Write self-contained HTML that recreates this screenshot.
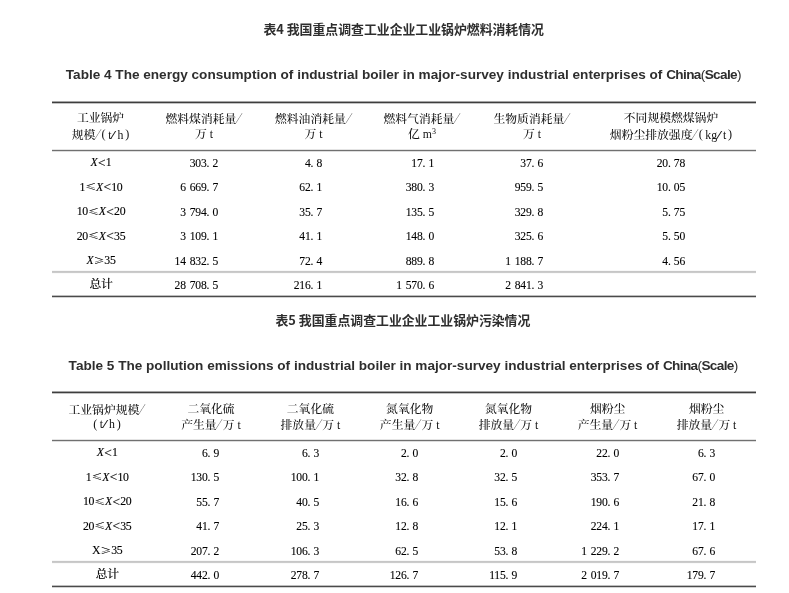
<!DOCTYPE html>
<html lang="zh-CN"><head><meta charset="utf-8"><title>表4 表5</title><style>
*{margin:0;padding:0;box-sizing:border-box}
html,body{width:789px;height:593px;overflow:hidden;background:#fff}
body{position:relative;font-family:"Liberation Serif","Noto Serif CJK SC",serif;color:#111}
.t{font-weight:500}
.r{position:absolute;left:52px;width:704px}
.t{position:absolute;white-space:nowrap;line-height:14px;font-size:11.8px}
.c{text-align:center;width:200px}
.c1{letter-spacing:-0.3px;color:#000;-webkit-text-stroke:0.12px #000}
.n{color:#000;-webkit-text-stroke:0.12px #000;transform:scaleX(0.88);transform-origin:100% 50%;text-align:right;width:100px;font-size:13.2px;letter-spacing:-0.24px;margin-top:-0.3px}
.h1{position:absolute;white-space:nowrap;font-weight:bold;color:#2e2e2e}
.cn{font-family:"Noto Sans CJK SC",sans-serif;font-size:12.86px;line-height:16px}
.en{font-family:"Liberation Sans","Noto Sans CJK SC",sans-serif;font-size:13.58px;line-height:16px}
.en i{font-style:normal;font-weight:normal}
.sc{letter-spacing:-0.62px}
.x{font-style:italic}
.g{display:inline-block;width:4.5px}
.p{display:inline-block;width:3.6px}
.op{font-family:"Noto Serif CJK SC",serif;font-weight:600;font-size:10.6px;display:inline-block;margin:0 0.3px;position:relative;top:-0.3px;transform:scaleY(0.82);transform-origin:50% 85%}
.lt{font-size:13.4px;display:inline-block;margin:0 0.5px;position:relative;top:0.9px;line-height:10px}
.sl{display:inline-block;text-align:left;width:7.4px;margin-left:-1.2px;font-family:"Noto Serif CJK SC",serif;transform:scaleX(0.64);transform-origin:0 50%}
.ls{display:inline-block;text-align:left;width:7px;margin-left:-1.1px;transform:scaleX(1.9);transform-origin:0 50%}
.pl{margin-right:2.6px;font-size:12.2px;position:relative;top:-0.4px}
.pr{margin-left:1.8px;font-size:12.2px;position:relative;top:-0.4px}
sup{font-size:8px;vertical-align:0;position:relative;top:-4px}
</style></head><body>
<div class="h1 cn" style="left:263.4px;top:21px">表4 我国重点调查工业企业工业锅炉燃料消耗情况</div>
<div class="h1 en" style="left:65.8px;top:67.3px">Table 4 The energy consumption of industrial boiler in major-survey industrial enterprises of <span class="sc">China<i>(</i>Scale<i>)</i></span></div>
<div class="h1 cn" style="left:275.5px;top:311.5px">表5 我国重点调查工业企业工业锅炉污染情况</div>
<div class="h1 en" style="left:68.6px;top:357.5px">Table 5 The pollution emissions of industrial boiler in major-survey industrial enterprises of <span class="sc">China<i>(</i>Scale<i>)</i></span></div>
<div class="r" style="top:101px;height:3px;background:linear-gradient(#a5a5a5 0px 1px, #3e3e3e 1px 2px, #c3c3c3 2px 3px)"></div>
<div class="r" style="top:149px;height:3px;background:linear-gradient(#e4e4e4 0px 1px, #707070 1px 2px, #dedede 2px 3px)"></div>
<div class="r" style="top:270px;height:4px;background:linear-gradient(#f8f8f8 0px 1px, #c6c6c6 1px 2px, #cbcbcb 2px 3px, #fafafa 3px 4px)"></div>
<div class="r" style="top:295px;height:3px;background:linear-gradient(#bebebe 0px 1px, #4b4b4b 1px 2px, #d2d2d2 2px 3px)"></div>
<div class="t c" style="left:0.50px;top:111.30px">工业锅炉</div>
<div class="t c" style="left:0.50px;top:126.70px">规模<span class="sl">／</span><span class="pl">(</span>t<span class="ls">/</span>h<span class="pr">)</span></div>
<div class="t c" style="left:104.00px;top:111.30px">燃料煤消耗量<span class="sl">／</span></div>
<div class="t c" style="left:104.00px;top:126.70px">万 t</div>
<div class="t c" style="left:213.50px;top:111.30px">燃料油消耗量<span class="sl">／</span></div>
<div class="t c" style="left:213.50px;top:126.70px">万 t</div>
<div class="t c" style="left:322.00px;top:111.30px">燃料气消耗量<span class="sl">／</span></div>
<div class="t c" style="left:322.00px;top:126.70px">亿 m<sup>3</sup></div>
<div class="t c" style="left:432.00px;top:111.30px">生物质消耗量<span class="sl">／</span></div>
<div class="t c" style="left:432.00px;top:126.70px">万 t</div>
<div class="t c" style="left:571.00px;top:111.30px">不同规模燃煤锅炉</div>
<div class="t c" style="left:571.00px;top:126.70px">烟粉尘排放强度<span class="sl">／</span><span class="pl">(</span>kg<span class="ls">/</span>t<span class="pr">)</span></div>
<div class="t c c1" style="left:1.00px;top:155.10px"><i class="x">X</i><span class="lt">&lt;</span>1</div>
<div class="t c c1" style="left:1.00px;top:179.60px">1<span class="op">≤</span><i class="x">X</i><span class="lt">&lt;</span>10</div>
<div class="t c c1" style="left:1.00px;top:204.10px">10<span class="op">≤</span><i class="x">X</i><span class="lt">&lt;</span>20</div>
<div class="t c c1" style="left:1.00px;top:228.60px">20<span class="op">≤</span><i class="x">X</i><span class="lt">&lt;</span>35</div>
<div class="t c c1" style="left:1.00px;top:253.10px"><i class="x">X</i><span class="op">≥</span>35</div>
<div class="t c c1" style="left:1.00px;top:277.40px">总计</div>
<div class="t n" style="left:118.00px;top:156.00px">303.<span class="p"></span>2</div>
<div class="t n" style="left:221.90px;top:156.00px">4.<span class="p"></span>8</div>
<div class="t n" style="left:333.70px;top:156.00px">17.<span class="p"></span>1</div>
<div class="t n" style="left:443.40px;top:156.00px">37.<span class="p"></span>6</div>
<div class="t n" style="left:585.20px;top:156.00px">20.<span class="p"></span>78</div>
<div class="t n" style="left:118.00px;top:180.50px">6<span class="g"></span>669.<span class="p"></span>7</div>
<div class="t n" style="left:221.90px;top:180.50px">62.<span class="p"></span>1</div>
<div class="t n" style="left:333.70px;top:180.50px">380.<span class="p"></span>3</div>
<div class="t n" style="left:443.40px;top:180.50px">959.<span class="p"></span>5</div>
<div class="t n" style="left:585.20px;top:180.50px">10.<span class="p"></span>05</div>
<div class="t n" style="left:118.00px;top:205.00px">3<span class="g"></span>794.<span class="p"></span>0</div>
<div class="t n" style="left:221.90px;top:205.00px">35.<span class="p"></span>7</div>
<div class="t n" style="left:333.70px;top:205.00px">135.<span class="p"></span>5</div>
<div class="t n" style="left:443.40px;top:205.00px">329.<span class="p"></span>8</div>
<div class="t n" style="left:585.20px;top:205.00px">5.<span class="p"></span>75</div>
<div class="t n" style="left:118.00px;top:229.50px">3<span class="g"></span>109.<span class="p"></span>1</div>
<div class="t n" style="left:221.90px;top:229.50px">41.<span class="p"></span>1</div>
<div class="t n" style="left:333.70px;top:229.50px">148.<span class="p"></span>0</div>
<div class="t n" style="left:443.40px;top:229.50px">325.<span class="p"></span>6</div>
<div class="t n" style="left:585.20px;top:229.50px">5.<span class="p"></span>50</div>
<div class="t n" style="left:118.00px;top:254.00px">14<span class="g"></span>832.<span class="p"></span>5</div>
<div class="t n" style="left:221.90px;top:254.00px">72.<span class="p"></span>4</div>
<div class="t n" style="left:333.70px;top:254.00px">889.<span class="p"></span>8</div>
<div class="t n" style="left:443.40px;top:254.00px">1<span class="g"></span>188.<span class="p"></span>7</div>
<div class="t n" style="left:585.20px;top:254.00px">4.<span class="p"></span>56</div>
<div class="t n" style="left:118.00px;top:278.00px">28<span class="g"></span>708.<span class="p"></span>5</div>
<div class="t n" style="left:221.90px;top:278.00px">216.<span class="p"></span>1</div>
<div class="t n" style="left:333.70px;top:278.00px">1<span class="g"></span>570.<span class="p"></span>6</div>
<div class="t n" style="left:443.40px;top:278.00px">2<span class="g"></span>841.<span class="p"></span>3</div>
<div class="r" style="top:391px;height:3px;background:linear-gradient(#a5a5a5 0px 1px, #3e3e3e 1px 2px, #c3c3c3 2px 3px)"></div>
<div class="r" style="top:439px;height:3px;background:linear-gradient(#e4e4e4 0px 1px, #707070 1px 2px, #dedede 2px 3px)"></div>
<div class="r" style="top:560px;height:4px;background:linear-gradient(#f8f8f8 0px 1px, #c6c6c6 1px 2px, #cbcbcb 2px 3px, #fafafa 3px 4px)"></div>
<div class="r" style="top:585px;height:3px;background:linear-gradient(#bebebe 0px 1px, #4b4b4b 1px 2px, #d2d2d2 2px 3px)"></div>
<div class="t c" style="left:7.00px;top:401.60px">工业锅炉规模<span class="sl">／</span></div>
<div class="t c" style="left:7.00px;top:417.00px"><span class="pl">(</span>t<span class="ls">/</span>h<span class="pr">)</span></div>
<div class="t c" style="left:111.00px;top:401.60px">二氧化硫</div>
<div class="t c" style="left:111.00px;top:417.00px">产生量<span class="sl">／</span>万 t</div>
<div class="t c" style="left:210.40px;top:401.60px">二氧化硫</div>
<div class="t c" style="left:210.40px;top:417.00px">排放量<span class="sl">／</span>万 t</div>
<div class="t c" style="left:309.70px;top:401.60px">氮氧化物</div>
<div class="t c" style="left:309.70px;top:417.00px">产生量<span class="sl">／</span>万 t</div>
<div class="t c" style="left:408.50px;top:401.60px">氮氧化物</div>
<div class="t c" style="left:408.50px;top:417.00px">排放量<span class="sl">／</span>万 t</div>
<div class="t c" style="left:507.60px;top:401.60px">烟粉尘</div>
<div class="t c" style="left:507.60px;top:417.00px">产生量<span class="sl">／</span>万 t</div>
<div class="t c" style="left:606.60px;top:401.60px">烟粉尘</div>
<div class="t c" style="left:606.60px;top:417.00px">排放量<span class="sl">／</span>万 t</div>
<div class="t c c1" style="left:7.20px;top:445.10px"><i class="x">X</i><span class="lt">&lt;</span>1</div>
<div class="t c c1" style="left:7.20px;top:469.60px">1<span class="op">≤</span><i class="x">X</i><span class="lt">&lt;</span>10</div>
<div class="t c c1" style="left:7.20px;top:494.10px">10<span class="op">≤</span><i class="x">X</i><span class="lt">&lt;</span>20</div>
<div class="t c c1" style="left:7.20px;top:518.60px">20<span class="op">≤</span><i class="x">X</i><span class="lt">&lt;</span>35</div>
<div class="t c c1" style="left:7.20px;top:543.10px">X<span class="op">≥</span>35</div>
<div class="t c c1" style="left:7.20px;top:567.40px">总计</div>
<div class="t n" style="left:119.30px;top:446.00px">6.<span class="p"></span>9</div>
<div class="t n" style="left:218.70px;top:446.00px">6.<span class="p"></span>3</div>
<div class="t n" style="left:318.40px;top:446.00px">2.<span class="p"></span>0</div>
<div class="t n" style="left:417.20px;top:446.00px">2.<span class="p"></span>0</div>
<div class="t n" style="left:518.60px;top:446.00px">22.<span class="p"></span>0</div>
<div class="t n" style="left:615.20px;top:446.00px">6.<span class="p"></span>3</div>
<div class="t n" style="left:119.30px;top:470.50px">130.<span class="p"></span>5</div>
<div class="t n" style="left:218.70px;top:470.50px">100.<span class="p"></span>1</div>
<div class="t n" style="left:318.40px;top:470.50px">32.<span class="p"></span>8</div>
<div class="t n" style="left:417.20px;top:470.50px">32.<span class="p"></span>5</div>
<div class="t n" style="left:518.60px;top:470.50px">353.<span class="p"></span>7</div>
<div class="t n" style="left:615.20px;top:470.50px">67.<span class="p"></span>0</div>
<div class="t n" style="left:119.30px;top:495.00px">55.<span class="p"></span>7</div>
<div class="t n" style="left:218.70px;top:495.00px">40.<span class="p"></span>5</div>
<div class="t n" style="left:318.40px;top:495.00px">16.<span class="p"></span>6</div>
<div class="t n" style="left:417.20px;top:495.00px">15.<span class="p"></span>6</div>
<div class="t n" style="left:518.60px;top:495.00px">190.<span class="p"></span>6</div>
<div class="t n" style="left:615.20px;top:495.00px">21.<span class="p"></span>8</div>
<div class="t n" style="left:119.30px;top:519.50px">41.<span class="p"></span>7</div>
<div class="t n" style="left:218.70px;top:519.50px">25.<span class="p"></span>3</div>
<div class="t n" style="left:318.40px;top:519.50px">12.<span class="p"></span>8</div>
<div class="t n" style="left:417.20px;top:519.50px">12.<span class="p"></span>1</div>
<div class="t n" style="left:518.60px;top:519.50px">224.<span class="p"></span>1</div>
<div class="t n" style="left:615.20px;top:519.50px">17.<span class="p"></span>1</div>
<div class="t n" style="left:119.30px;top:544.00px">207.<span class="p"></span>2</div>
<div class="t n" style="left:218.70px;top:544.00px">106.<span class="p"></span>3</div>
<div class="t n" style="left:318.40px;top:544.00px">62.<span class="p"></span>5</div>
<div class="t n" style="left:417.20px;top:544.00px">53.<span class="p"></span>8</div>
<div class="t n" style="left:518.60px;top:544.00px">1<span class="g"></span>229.<span class="p"></span>2</div>
<div class="t n" style="left:615.20px;top:544.00px">67.<span class="p"></span>6</div>
<div class="t n" style="left:119.30px;top:568.00px">442.<span class="p"></span>0</div>
<div class="t n" style="left:218.70px;top:568.00px">278.<span class="p"></span>7</div>
<div class="t n" style="left:318.40px;top:568.00px">126.<span class="p"></span>7</div>
<div class="t n" style="left:417.20px;top:568.00px">115.<span class="p"></span>9</div>
<div class="t n" style="left:518.60px;top:568.00px">2<span class="g"></span>019.<span class="p"></span>7</div>
<div class="t n" style="left:615.20px;top:568.00px">179.<span class="p"></span>7</div>
</body></html>
